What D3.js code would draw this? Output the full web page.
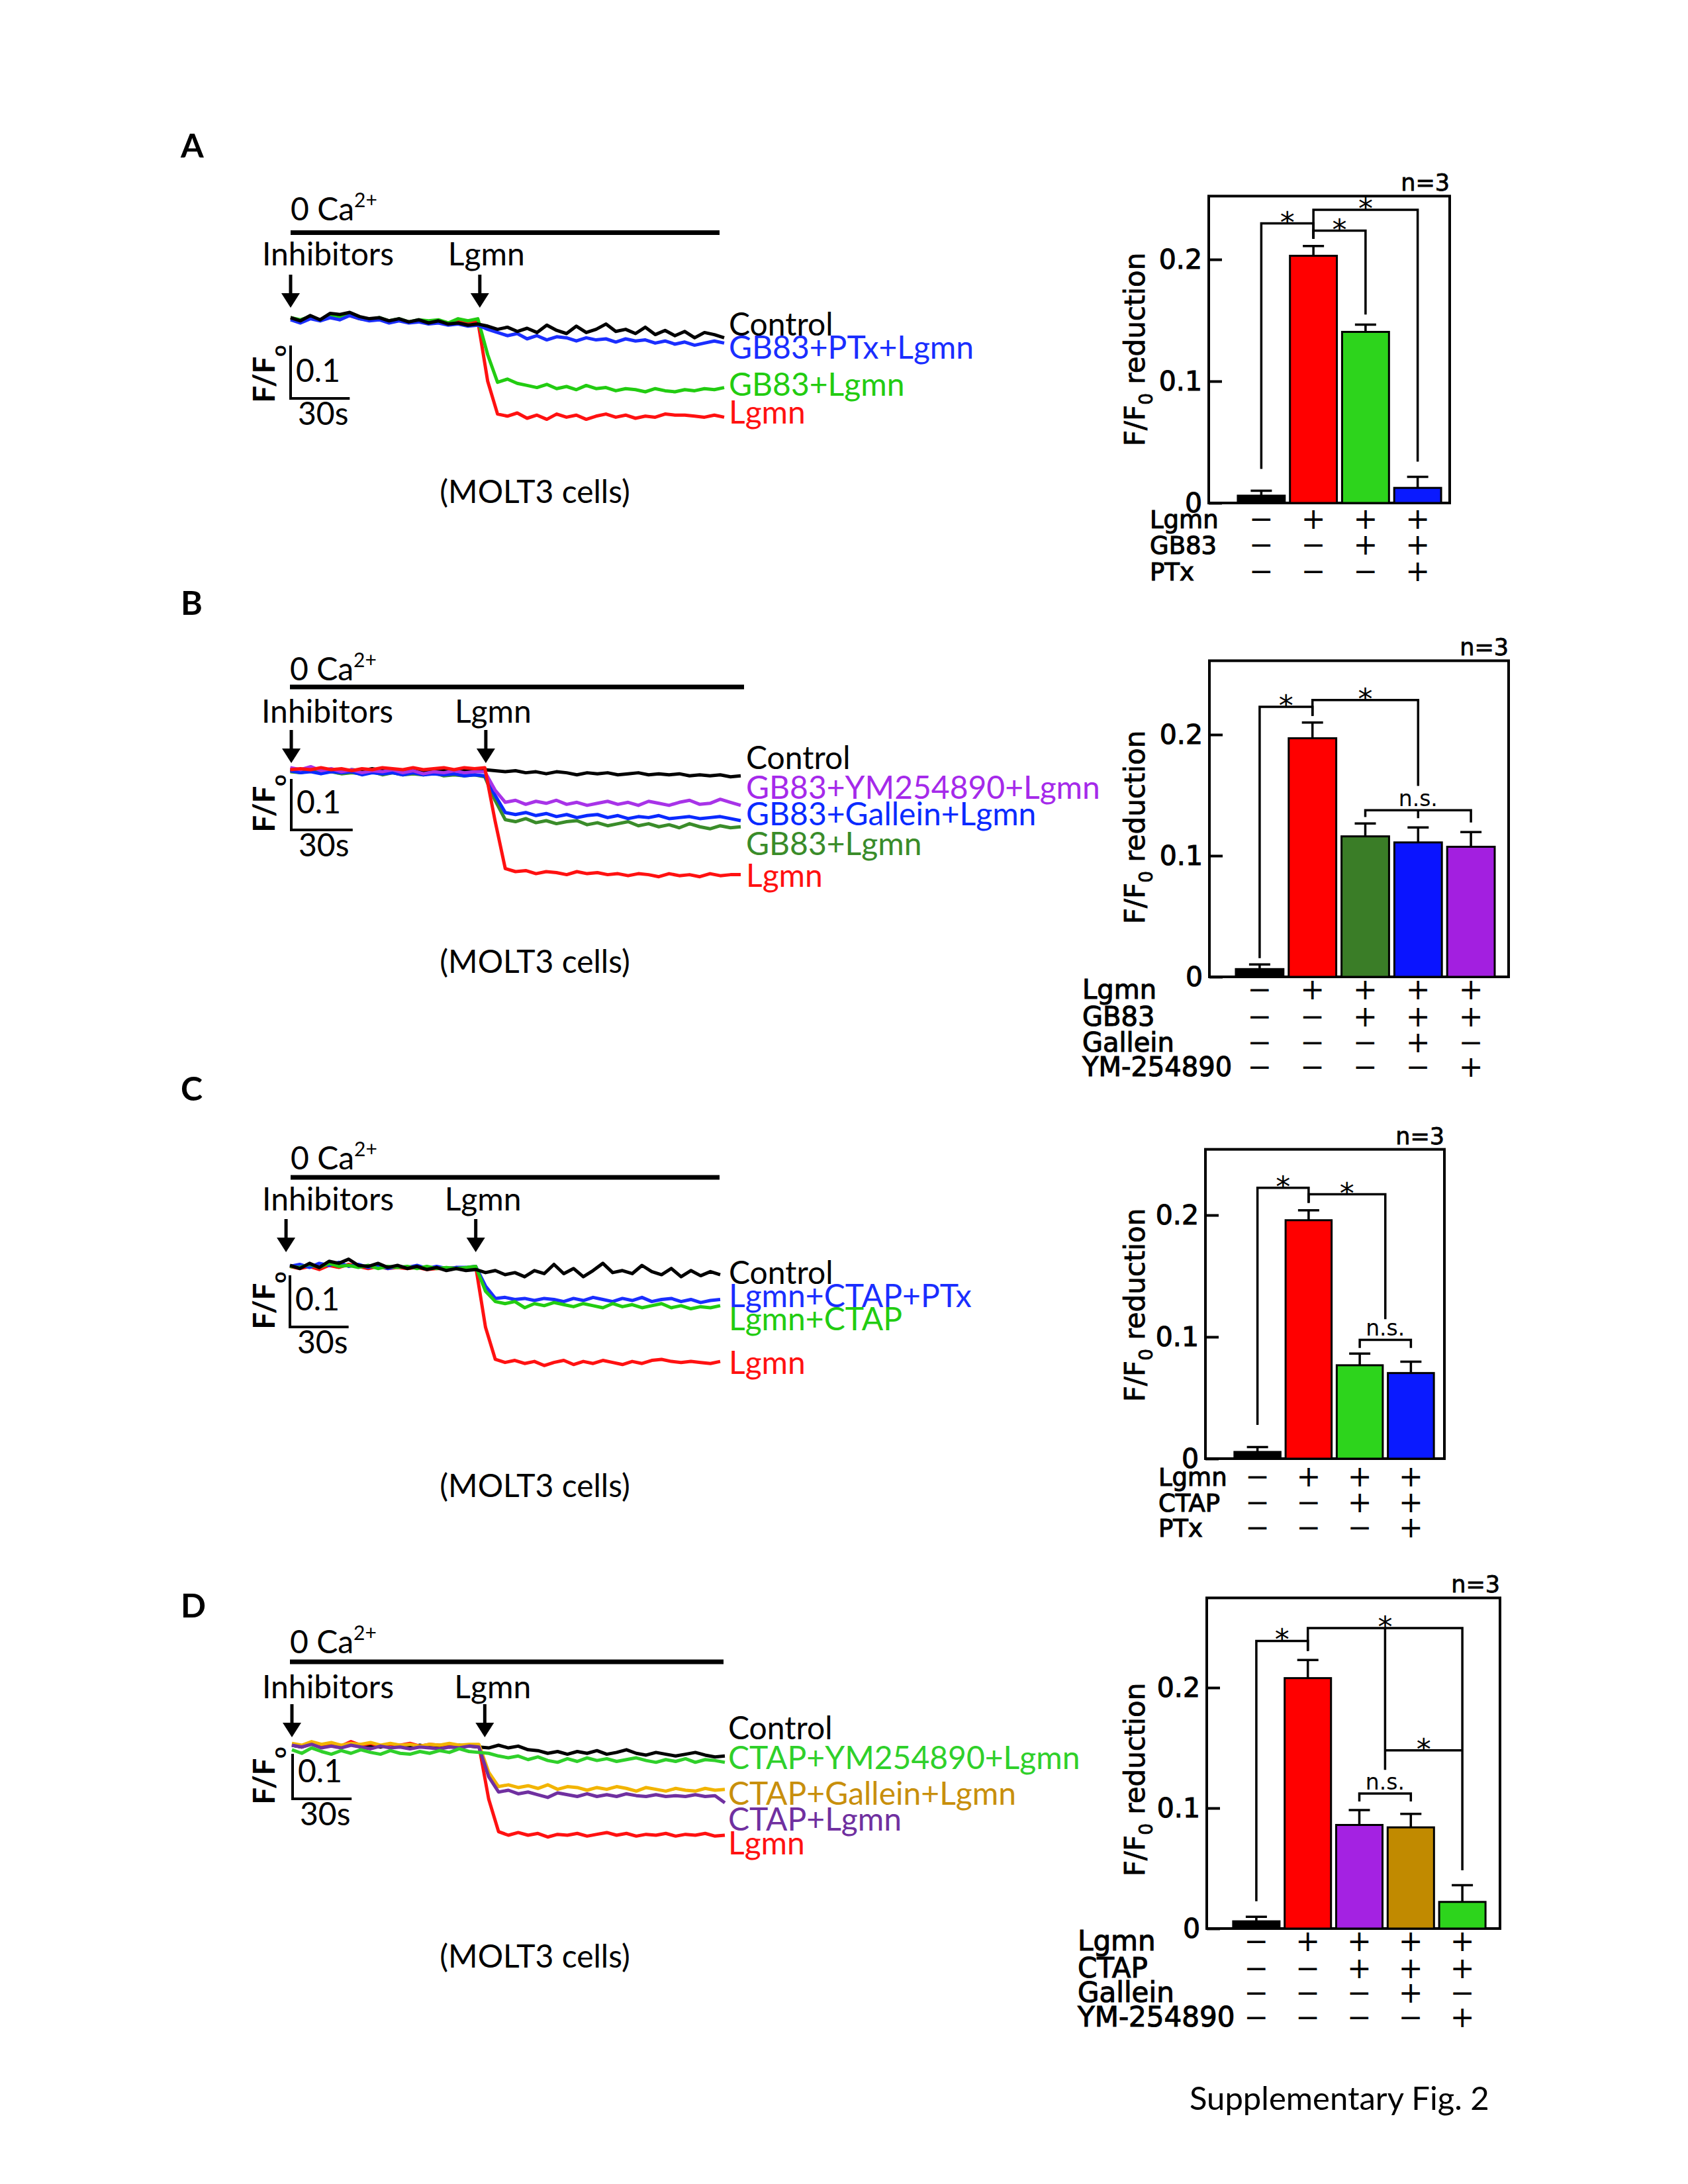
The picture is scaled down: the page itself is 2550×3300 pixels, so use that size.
<!DOCTYPE html>
<html>
<head>
<meta charset="utf-8">
<script src="https://cdn.jsdelivr.net/npm/d3@7"></script>
<style>
  body { margin: 0; background: #fff; }
</style>
</head>
<body>
<div class="container"></div>
<script>
//Width and height
var w = 2550;
var h = 3300;

var TRACE_FONT = "Lato, 'Open Sans', sans-serif";
var BAR_FONT = "'DejaVu Sans', Verdana, sans-serif";

/* ---------- calcium traces: F/F0 sampled every 5 s ---------- */
var timeSec = [0,5,10,15,20,25,30,35,40,45,50,55,60,65,70,75,80,85,90,95,
  100,105,110,115,120,125,130,135,140,145,150,155,160,165,170,175,180,185,190,195,200,205,210,215,220];

// panel A
var aAddTimes = [0, 96];
var aTraceLabels = ["Control", "GB83+PTx+Lgmn", "GB83+Lgmn", "Lgmn"];
var aControl = [1.000,0.994,1.004,0.996,1.008,1.006,1.010,1.002,0.998,1.000,0.994,0.998,0.992,0.996,0.990,0.994,0.988,0.990,0.986,0.988,
  0.984,0.978,0.982,0.974,0.980,0.972,0.986,0.976,0.970,0.984,0.972,0.978,0.988,0.974,0.978,0.970,0.982,0.968,0.976,0.966,0.974,0.962,0.972,0.968,0.962];
var aGB83PTx = [0.996,0.990,0.998,0.994,1.000,0.996,1.004,0.998,0.994,0.996,0.990,0.994,0.990,0.992,0.988,0.990,0.986,0.988,0.984,0.986,
  0.978,0.972,0.966,0.970,0.960,0.966,0.958,0.964,0.962,0.956,0.962,0.958,0.960,0.954,0.960,0.956,0.958,0.952,0.956,0.950,0.954,0.948,0.952,0.956,0.952];
var aGB83 = [1.000,0.996,1.002,0.994,1.004,1.000,1.006,0.998,0.996,1.000,0.994,0.998,0.992,0.996,0.994,0.996,0.990,0.998,0.994,0.998,
  0.930,0.878,0.884,0.876,0.872,0.868,0.874,0.866,0.870,0.864,0.872,0.866,0.868,0.862,0.866,0.864,0.860,0.866,0.862,0.860,0.864,0.862,0.866,0.864,0.868];
var aLgmn = [1.000,0.994,1.000,0.996,1.002,1.000,1.004,0.998,0.996,0.998,0.994,0.996,0.992,0.994,0.992,0.994,0.990,0.992,0.992,0.994,
  0.880,0.818,0.814,0.820,0.810,0.816,0.808,0.818,0.812,0.816,0.808,0.814,0.818,0.812,0.816,0.810,0.814,0.812,0.818,0.816,0.816,0.814,0.812,0.816,0.812];

// panel B
var bAddTimes = [0.5, 95.5];
var bTraceLabels = ["Control", "GB83+YM254890+Lgmn", "GB83+Gallein+Lgmn", "GB83+Lgmn", "Lgmn"];
var bControl = [1.000,0.998,1.002,0.998,1.000,0.996,1.000,0.998,1.002,0.998,1.000,0.996,1.000,0.998,0.996,1.000,0.998,1.000,0.998,1.000,
  0.998,0.996,0.998,0.994,0.996,0.992,0.996,0.994,0.990,0.994,0.992,0.994,0.990,0.992,0.994,0.990,0.992,0.990,0.992,0.988,0.990,0.988,0.990,0.986,0.988];
var bGB83YM = [1.004,1.000,1.006,0.998,1.002,0.996,1.000,0.994,0.998,0.996,1.000,0.994,0.998,0.992,0.996,0.994,0.998,0.994,0.996,0.996,
  0.960,0.936,0.940,0.932,0.938,0.934,0.940,0.932,0.936,0.930,0.934,0.938,0.932,0.936,0.930,0.938,0.934,0.930,0.936,0.940,0.932,0.934,0.942,0.936,0.930];
var bGB83Gallein = [0.998,0.994,0.996,0.992,0.996,0.994,0.996,0.990,0.994,0.992,0.994,0.990,0.994,0.990,0.992,0.990,0.992,0.988,0.990,0.988,
  0.950,0.916,0.912,0.916,0.910,0.914,0.908,0.912,0.906,0.910,0.912,0.906,0.910,0.904,0.908,0.906,0.910,0.904,0.906,0.908,0.904,0.906,0.908,0.904,0.900];
var bGB83 = [0.996,0.994,0.998,0.994,0.996,0.992,0.994,0.992,0.996,0.990,0.994,0.990,0.992,0.990,0.994,0.988,0.990,0.988,0.990,0.986,
  0.940,0.902,0.898,0.904,0.896,0.900,0.894,0.898,0.900,0.892,0.896,0.890,0.894,0.898,0.890,0.894,0.888,0.892,0.886,0.894,0.888,0.884,0.890,0.886,0.888];
var bLgmn = [1.000,1.002,1.000,1.004,1.000,1.002,0.998,1.002,1.000,1.004,1.002,1.000,1.004,1.000,1.002,1.004,1.000,1.004,1.002,1.004,
  0.900,0.806,0.800,0.802,0.796,0.800,0.798,0.794,0.800,0.796,0.798,0.794,0.796,0.792,0.796,0.794,0.790,0.796,0.792,0.794,0.790,0.796,0.792,0.794,0.794];

// panel C
var cAddTimes = [-2, 95];
var cTraceLabels = ["Control", "Lgmn+CTAP+PTx", "Lgmn+CTAP", "Lgmn"];
var cControl = [1.000,0.994,1.004,0.996,1.008,1.004,1.012,1.000,0.998,1.004,0.996,1.000,0.994,0.998,0.992,0.996,0.990,0.994,0.990,0.992,
  0.986,0.990,0.982,0.986,0.978,0.990,0.984,1.002,0.984,0.994,0.978,0.990,1.004,0.986,0.990,0.984,1.000,0.988,0.982,0.994,0.978,0.990,0.980,0.988,0.982];
var cCTAPPTx = [0.998,1.002,0.996,1.004,1.000,1.006,0.998,1.002,0.996,1.000,0.994,0.998,0.996,1.000,0.994,0.998,0.994,0.996,0.996,0.998,
  0.960,0.936,0.938,0.934,0.936,0.932,0.936,0.934,0.930,0.936,0.932,0.938,0.934,0.930,0.936,0.932,0.938,0.930,0.934,0.936,0.930,0.934,0.928,0.932,0.934];
var cCTAP = [0.998,0.996,1.002,0.996,1.004,0.998,1.000,0.996,1.000,0.994,0.998,0.996,0.998,0.994,0.998,0.994,0.996,0.994,0.996,0.998,
  0.950,0.930,0.926,0.930,0.918,0.926,0.922,0.928,0.924,0.920,0.926,0.922,0.918,0.926,0.920,0.924,0.918,0.922,0.926,0.918,0.922,0.916,0.920,0.918,0.922];
var cLgmn = [0.998,0.994,0.998,0.992,1.000,0.996,1.002,0.998,0.994,0.998,0.994,0.996,0.994,0.996,0.992,0.994,0.994,0.996,0.994,0.998,
  0.880,0.818,0.812,0.816,0.810,0.814,0.806,0.812,0.816,0.808,0.814,0.810,0.816,0.812,0.808,0.814,0.810,0.816,0.818,0.814,0.812,0.814,0.812,0.810,0.814];

// panel D
var dAddTimes = [0, 98];
var dTraceLabels = ["Control", "CTAP+YM254890+Lgmn", "CTAP+Gallein+Lgmn", "CTAP+Lgmn", "Lgmn"];
var dControl = [1.000,0.996,1.004,0.998,1.002,0.996,1.004,0.998,1.000,0.996,1.002,0.998,0.996,1.000,0.996,0.998,0.996,1.000,0.998,0.996,
  0.994,1.000,0.994,0.998,0.990,0.988,0.982,0.986,0.980,0.986,0.982,0.988,0.980,0.984,0.990,0.982,0.978,0.984,0.980,0.976,0.980,0.984,0.978,0.974,0.976];
var dCTAPYM = [0.990,0.982,0.994,0.986,0.980,0.988,0.982,0.990,0.984,0.980,0.988,0.982,0.980,0.986,0.982,0.988,0.984,0.992,0.986,0.984,
  0.982,0.976,0.972,0.976,0.968,0.974,0.966,0.962,0.970,0.964,0.972,0.966,0.970,0.964,0.968,0.972,0.966,0.962,0.968,0.964,0.970,0.962,0.968,0.966,0.962];
var dCTAPGallein = [1.004,1.000,1.008,1.002,1.006,1.000,1.004,1.002,1.006,1.000,1.004,1.000,1.002,0.998,1.002,1.000,1.004,1.000,1.002,1.002,
  0.940,0.908,0.912,0.906,0.910,0.904,0.912,0.902,0.908,0.906,0.900,0.906,0.902,0.908,0.904,0.898,0.906,0.902,0.898,0.904,0.900,0.898,0.904,0.900,0.902];
var dCTAP = [1.000,0.996,1.002,0.994,0.998,0.994,1.000,0.996,0.992,0.998,0.994,0.996,0.992,0.996,0.994,0.992,0.996,0.994,0.998,0.996,
  0.930,0.896,0.900,0.892,0.896,0.890,0.884,0.894,0.890,0.886,0.892,0.886,0.890,0.886,0.892,0.888,0.886,0.890,0.886,0.888,0.886,0.890,0.886,0.888,0.872];
var dLgmn = [1.002,0.998,1.006,1.000,1.004,0.998,1.008,1.000,1.004,0.998,1.002,1.000,1.004,0.998,1.002,1.000,1.002,0.998,1.000,1.000,
  0.880,0.808,0.800,0.806,0.800,0.804,0.796,0.802,0.800,0.804,0.798,0.802,0.806,0.800,0.804,0.798,0.802,0.800,0.804,0.798,0.802,0.800,0.804,0.798,0.800];

/* ---------- bar charts: F/F0 reduction, mean and SEM ---------- */
var aMeans = [0.006, 0.203, 0.1405, 0.0124];
var aErrors = [0.004, 0.008, 0.006, 0.009];
var aRowNames = ["Lgmn", "GB83", "PTx"];
var aRowSigns = [["−","+","+","+"], ["−","−","+","+"], ["−","−","−","+"]];
var aBrackets = [
  {a: 0, b: 1, level: 0.2296, endA: 0.028, endB: 0.217, label: "*"},
  {a: 1, b: 2, level: 0.2236, endA: 0.217, endB: 0.1547, label: "*"},
  {a: 1, b: 3, level: 0.2407, endA: 0.217, endB: 0.034, label: "*"}
];

var bMeans = [0.0064, 0.197, 0.116, 0.111, 0.1074];
var bErrors = [0.0038, 0.013, 0.0107, 0.0123, 0.0121];
var bRowNames = ["Lgmn", "GB83", "Gallein", "YM-254890"];
var bRowSigns = [["−","+","+","+","+"], ["−","−","+","+","+"], ["−","−","−","+","−"], ["−","−","−","−","+"]];
var bBrackets = [
  {a: 0, b: 1, level: 0.2229, endA: 0.0155, endB: 0.2155, label: "*"},
  {a: 1, b: 3, level: 0.2286, endA: 0.2155, endB: 0.1576, label: "*"},
  {a: 2, b: 4, level: 0.1376, endA: 0.132, endB: 0.1274, label: "n.s.", ticks: [[3, 0.131]]}
];

var cMeans = [0.0055, 0.1958, 0.0767, 0.0703];
var cErrors = [0.004, 0.0082, 0.0096, 0.0093];
var cRowNames = ["Lgmn", "CTAP", "PTx"];
var cRowSigns = [["−","+","+","+"], ["−","−","+","+"], ["−","−","−","+"]];
var cBrackets = [
  {a: 0, b: 1, level: 0.2224, endA: 0.0277, endB: 0.21, label: "*"},
  {a: 1, b: 2.5, level: 0.2171, endA: 0.21, endB: 0.1146, label: "*"},
  {a: 2, b: 3, level: 0.0976, endA: 0.0909, endB: 0.0909, label: "n.s."}
];

var dMeans = [0.006, 0.2079, 0.086, 0.084, 0.0221];
var dErrors = [0.0038, 0.015, 0.0123, 0.0112, 0.0139];
var dRowNames = ["Lgmn", "CTAP", "Gallein", "YM-254890"];
var dRowSigns = [["−","+","+","+","+"], ["−","−","+","+","+"], ["−","−","−","+","−"], ["−","−","−","−","+"]];
var dBrackets = [
  {a: 0, b: 1, level: 0.2388, endA: 0.0226, endB: 0.2305, label: "*"},
  {a: 1, b: 4, level: 0.2495, endA: 0.2305, endB: 0.0483, label: "*"},
  {a: 2.5, b: 4, level: 0.1479, endA: 0.1317, endB: 0.1479, topA: 0.2495, label: "*"},
  {a: 2, b: 3, level: 0.1121, endA: 0.1055, endB: 0.1055, label: "n.s."}
];

var sampleSize = "n=3";

//Create SVG element
var svg = d3.select(".container")
    .append("svg")
    .attr("width", w)
    .attr("height", h);

svg.append("rect").attr("width", w).attr("height", h).attr("fill", "#fff");

/* ---------- trace panel ---------- */
function drawTraces(cfg) {
  var g = svg.append("g").attr("font-family", TRACE_FONT).attr("font-size", 48);

  var x = d3.scaleLinear().domain([0, 220]).range(cfg.xRange);
  var y = d3.scaleLinear().domain([1, 0.9]).range([cfg.yBase, cfg.yBase + cfg.px01]);

  // 0 Ca2+ bar
  var ca = g.append("text").attr("x", cfg.barX[0]).attr("y", cfg.caY);
  ca.append("tspan").text("0 Ca");
  ca.append("tspan").attr("font-size", 30).attr("dy", -20).text("2+");
  g.append("rect")
    .attr("x", cfg.barX[0]).attr("y", cfg.barY - 3.5)
    .attr("width", cfg.barX[1] - cfg.barX[0]).attr("height", 7)
    .attr("fill", "#000");

  // additions
  ["Inhibitors", "Lgmn"].forEach(function(name, i) {
    var ax = x(cfg.addTimes[i]);
    g.append("text").attr("x", ax + cfg.addDx[i]).attr("y", cfg.addY).text(name);
    g.append("line")
      .attr("x1", ax).attr("x2", ax)
      .attr("y1", cfg.arrowY[0]).attr("y2", cfg.arrowY[1] - 18)
      .attr("stroke", "#000").attr("stroke-width", 5);
    g.append("path")
      .attr("d", "M" + (ax - 14) + "," + (cfg.arrowY[1] - 22) + "L" + (ax + 14) + "," + (cfg.arrowY[1] - 22) + "L" + ax + "," + cfg.arrowY[1] + "Z")
      .attr("fill", "#000");
  });

  var line = d3.line()
    .x(function(d, i) { return x(timeSec[i]); })
    .y(function(d) { return y(d); });

  cfg.order.forEach(function(k) {
    g.append("path")
      .datum(cfg.series[k])
      .attr("d", line)
      .attr("fill", "none")
      .attr("stroke", cfg.colors[k])
      .attr("stroke-width", 5)
      .attr("stroke-linejoin", "round");
  });

  cfg.labels.forEach(function(t, k) {
    g.append("text")
      .attr("x", cfg.labelX)
      .attr("y", cfg.labelY[k])
      .attr("fill", cfg.labelColors[k])
      .text(t);
  });

  // scale bar
  var sx = x(0) + cfg.sbDx;
  var len = y(0.9) - y(1);
  g.append("path")
    .attr("d", "M" + sx + "," + cfg.sbTop + "V" + (cfg.sbTop + len) + "H" + (sx + x(30) - x(0)))
    .attr("fill", "none").attr("stroke", "#000").attr("stroke-width", 4);
  g.append("text").attr("x", sx + 8).attr("y", cfg.sbTop + len - 25).text("0.1");
  g.append("text").attr("x", sx + 11).attr("y", cfg.sbTop + len + 40).text("30s");

  var ff = g.append("text")
    .attr("transform", "translate(415," + cfg.ffY + ") rotate(-90)")
    .attr("text-anchor", "middle")
    .attr("font-weight", "bold")
    .attr("font-size", 45);
  ff.append("tspan").text("F/F");
  ff.append("tspan").attr("font-size", 30).attr("dy", 17).text("o");

  g.append("text")
    .attr("x", 808).attr("y", cfg.moltY)
    .attr("text-anchor", "middle")
    .text("(MOLT3 cells)");
}

/* ---------- bar panel ---------- */
function drawBars(cfg) {
  var g = svg.append("g").attr("font-family", BAR_FONT);
  var n = cfg.means.length;

  var topPx = cfg.y0 - cfg.px01 * cfg.yMax / 0.1;
  var y = d3.scaleLinear().domain([0, cfg.yMax]).range([cfg.y0, topPx]);
  var x = d3.scaleBand().domain(d3.range(n)).range(cfg.xRange).paddingInner(0.1).paddingOuter(0.05);
  function pos(i) { return x(0) + x.bandwidth() / 2 + i * x.step(); }

  // frame
  g.append("rect")
    .attr("x", cfg.frame[0]).attr("y", topPx)
    .attr("width", cfg.frame[1] - cfg.frame[0]).attr("height", cfg.y0 - topPx)
    .attr("fill", "none").attr("stroke", "#000").attr("stroke-width", 4);

  var axis = g.append("g")
    .attr("transform", "translate(" + cfg.frame[0] + ",0)")
    .call(d3.axisLeft(y).tickValues([0, 0.1, 0.2]).tickSize(-20).tickPadding(10).tickFormat(d3.format("~g")));
  axis.select(".domain").remove();
  axis.selectAll("line").attr("stroke-width", 4);
  axis.selectAll("text").attr("font-size", 41).attr("font-family", BAR_FONT)
    .attr("fill", "#000").attr("stroke", "#000").attr("stroke-width", 1.1);

  // bars
  g.selectAll(".bar")
    .data(cfg.means)
    .enter().append("rect")
    .attr("class", "bar")
    .attr("x", function(d, i) { return x(i); })
    .attr("y", function(d) { return y(d); })
    .attr("width", x.bandwidth())
    .attr("height", function(d) { return cfg.y0 - y(d); })
    .attr("fill", function(d, i) { return cfg.colors[i]; })
    .attr("stroke", "#000").attr("stroke-width", 3);

  // error bars
  cfg.means.forEach(function(m, i) {
    var cx = pos(i), ty = y(m + cfg.errors[i]);
    g.append("path")
      .attr("d", "M" + cx + "," + y(m) + "V" + ty + "M" + (cx - 16) + "," + ty + "H" + (cx + 16))
      .attr("fill", "none").attr("stroke", "#000").attr("stroke-width", 3.5);
  });

  // significance brackets
  cfg.brackets.forEach(function(b) {
    var d = "M" + pos(b.a) + "," + y(b.endA) + "V" + y(b.level) + "H" + pos(b.b) + "V" + y(b.endB);
    if (b.topA) d += "M" + pos(b.a) + "," + y(b.topA) + "V" + y(b.endA);
    (b.ticks || []).forEach(function(t) { d += "M" + pos(t[0]) + "," + y(b.level) + "V" + y(t[1]); });
    g.append("path").attr("d", d).attr("fill", "none").attr("stroke", "#000").attr("stroke-width", 3.5);
    var mid = (pos(b.a) + pos(b.b)) / 2;
    if (b.label === "*") {
      g.append("text").attr("x", mid).attr("y", y(b.level) + 14)
        .attr("text-anchor", "middle").attr("font-size", 44).text("*");
    } else {
      g.append("text").attr("x", mid).attr("y", y(b.level) - 6)
        .attr("text-anchor", "middle").attr("font-size", 33).text(b.label);
    }
  });

  g.append("text")
    .attr("x", cfg.frame[1]).attr("y", topPx - 8)
    .attr("text-anchor", "end").attr("font-size", 35)
    .attr("stroke", "#000").attr("stroke-width", 0.8)
    .text(sampleSize);

  // y label
  var yl = g.append("text")
    .attr("transform", "translate(" + cfg.ylabel[0] + "," + cfg.ylabel[1] + ") rotate(-90)")
    .attr("text-anchor", "middle").attr("font-size", 42)
    .attr("stroke", "#000").attr("stroke-width", 0.8);
  yl.append("tspan").text("F/F");
  yl.append("tspan").attr("font-size", 28).attr("dy", 12).text("0");
  yl.append("tspan").attr("dy", -12).text(" reduction");

  // treatment table
  cfg.rowNames.forEach(function(r, j) {
    g.append("text").attr("x", cfg.rowX).attr("y", cfg.rowY[j])
      .attr("font-size", cfg.rowFont)
      .attr("stroke", "#000").attr("stroke-width", 1.1)
      .text(r);
    cfg.rowSigns[j].forEach(function(s, i) {
      g.append("text").attr("x", pos(i)).attr("y", cfg.rowY[j] + 1)
        .attr("text-anchor", "middle").attr("font-size", 44).text(s);
    });
  });
}

/* ---------- panel letters ---------- */
[["A", 238], ["B", 929], ["C", 1663], ["D", 2444]].forEach(function(p) {
  svg.append("text").attr("x", 273).attr("y", p[1])
    .attr("font-family", TRACE_FONT).attr("font-weight", "bold").attr("font-size", 50)
    .text(p[0]);
});

drawTraces({
  xRange: [439, 1094], yBase: 480, px01: 80,
  barX: [439, 1087], barY: 351.5, caY: 333,
  addTimes: aAddTimes, addDx: [-43, -48], addY: 401, arrowY: [415, 465],
  series: [aControl, aGB83PTx, aGB83, aLgmn],
  colors: ["#000", "#1a2eff", "#22cc11", "#ff1111"],
  labelColors: ["#000", "#1a2eff", "#22cc11", "#ff1111"],
  order: [3, 2, 1, 0],
  labels: aTraceLabels, labelX: 1101, labelY: [507, 542, 598, 640],
  sbDx: 0, sbTop: 522, ffY: 565, moltY: 760
});

drawTraces({
  xRange: [438.5, 1119], yBase: 1163, px01: 77,
  barX: [438, 1124], barY: 1038, caY: 1028,
  addTimes: bAddTimes, addDx: [-45, -47], addY: 1092, arrowY: [1103, 1153],
  series: [bControl, bGB83YM, bGB83Gallein, bGB83, bLgmn],
  colors: ["#000", "#a833e8", "#0a2aff", "#3a8c2a", "#ff1111"],
  labelColors: ["#000", "#a52aea", "#0a2aff", "#3a8c2a", "#ff1111"],
  order: [0, 3, 2, 1, 4],
  labels: bTraceLabels, labelX: 1127, labelY: [1162, 1207, 1247, 1292, 1340],
  sbDx: 1.5, sbTop: 1177, ffY: 1214, moltY: 1470
});

drawTraces({
  xRange: [438, 1088], yBase: 1912, px01: 78,
  barX: [439, 1087], barY: 1779, caY: 1767,
  addTimes: cAddTimes, addDx: [-36, -47], addY: 1829, arrowY: [1842, 1892],
  series: [cControl, cCTAPPTx, cCTAP, cLgmn],
  colors: ["#000", "#1a2eff", "#22cc11", "#ff1111"],
  labelColors: ["#000", "#1a2eff", "#22cc11", "#ff1111"],
  order: [3, 1, 2, 0],
  labels: cTraceLabels, labelX: 1101, labelY: [1940, 1975, 2010, 2076],
  sbDx: 0, sbTop: 1927, ffY: 1965, moltY: 2262
});

drawTraces({
  xRange: [441, 1095], yBase: 2637, px01: 68,
  barX: [438, 1093], barY: 2511, caY: 2498,
  addTimes: dAddTimes, addDx: [-45, -46], addY: 2566, arrowY: [2575, 2625],
  series: [dControl, dCTAPYM, dCTAPGallein, dCTAP, dLgmn],
  colors: ["#000", "#2fd02a", "#f2b400", "#7030a0", "#ff1111"],
  labelColors: ["#000", "#2fd02a", "#c88f0c", "#7030a0", "#ff1111"],
  order: [0, 4, 2, 3, 1],
  labels: dTraceLabels, labelX: 1100, labelY: [2628, 2673, 2727, 2766, 2802],
  sbDx: 1, sbTop: 2650, ffY: 2683, moltY: 2973
});

drawBars({
  means: aMeans, errors: aErrors, brackets: aBrackets,
  rowNames: aRowNames, rowSigns: aRowSigns,
  colors: ["#000", "#ff0000", "#2dd41c", "#0a1aff"],
  y0: 760, px01: 184, yMax: 0.252,
  frame: [1826, 2190], xRange: [1866, 2181],
  ylabel: [1729, 528], rowX: 1737, rowY: [798, 837, 877], rowFont: 37
});

drawBars({
  means: bMeans, errors: bErrors, brackets: bBrackets,
  rowNames: bRowNames, rowSigns: bRowSigns,
  colors: ["#000", "#ff0000", "#3a7d27", "#0a14ff", "#a31fe0"],
  y0: 1476, px01: 183, yMax: 0.261,
  frame: [1827, 2279], xRange: [1863, 2262],
  ylabel: [1729, 1250], rowX: 1635, rowY: [1509, 1550, 1589, 1626], rowFont: 40
});

drawBars({
  means: cMeans, errors: cErrors, brackets: cBrackets,
  rowNames: cRowNames, rowSigns: cRowSigns,
  colors: ["#000", "#ff0000", "#2dd41c", "#0a1aff"],
  y0: 2204, px01: 184, yMax: 0.254,
  frame: [1821, 2182], xRange: [1861, 2170],
  ylabel: [1729, 1972], rowX: 1750, rowY: [2245, 2284, 2322], rowFont: 37
});

drawBars({
  means: dMeans, errors: dErrors, brackets: dBrackets,
  rowNames: dRowNames, rowSigns: dRowSigns,
  colors: ["#000", "#ff0000", "#a422e2", "#c18a00", "#2dd41c"],
  y0: 2914, px01: 182, yMax: 0.2745,
  frame: [1823, 2266], xRange: [1859, 2248],
  ylabel: [1729, 2689], rowX: 1628, rowY: [2947, 2988, 3025, 3062], rowFont: 42
});

svg.append("text")
  .attr("x", 1797).attr("y", 3188)
  .attr("font-family", TRACE_FONT).attr("font-size", 49)
  .text("Supplementary Fig. 2");
</script>
</body>
</html>
